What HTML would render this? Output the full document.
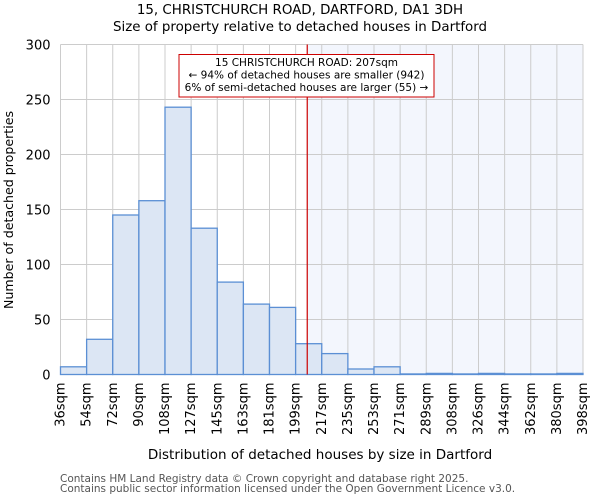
<!DOCTYPE html>
<html><head><meta charset="utf-8"><style>
body{margin:0;background:#fff;font-family:"DejaVu Sans","Liberation Sans",sans-serif}
</style></head><body>
<svg id="chart" width="600" height="500" xmlns="http://www.w3.org/2000/svg" font-family="DejaVu Sans, Liberation Sans, sans-serif">
<text x="300" y="14" text-anchor="middle" font-size="13.4">15, CHRISTCHURCH ROAD, DARTFORD, DA1 3DH</text>
<text x="300" y="31" text-anchor="middle" font-size="13.4">Size of property relative to detached houses in Dartford</text>
<g id="plot"></g>
<text x="320" y="459" text-anchor="middle" font-size="13.5">Distribution of detached houses by size in Dartford</text>
<text transform="translate(13,210) rotate(-90)" text-anchor="middle" font-size="12.6">Number of detached properties</text>
<text x="60" y="482" font-size="10.5" fill="#555">Contains HM Land Registry data © Crown copyright and database right 2025.</text>
<text x="60" y="492" font-size="10.5" fill="#555">Contains public sector information licensed under the Open Government Licence v3.0.</text>
</svg>
<script>
const binLabels=["36sqm","54sqm","72sqm","90sqm","108sqm","127sqm","145sqm","163sqm","181sqm","199sqm","217sqm","235sqm","253sqm","271sqm","289sqm","308sqm","326sqm","344sqm","362sqm","380sqm","398sqm"];
const counts=[7,32,145,158,243,133,84,64,61,28,19,5,7,0.5,1,0.5,1,0.5,0.5,1];
const yTicks=[0,50,100,150,200,250,300];
const propertySize=207;
const ns="http://www.w3.org/2000/svg";
const L=60.5,R=583,T=44.5,B=374.5,ymax=300;
const n=counts.length,bw=(R-L)/n;
const xs=i=>L+i*bw;
const ys=v=>B-(B-T)*v/ymax;
const edges=binLabels.map(s=>parseFloat(s));
function xVal(v){for(let i=0;i<edges.length-1;i++){if(v>=edges[i]&&v<=edges[i+1])return xs(i)+bw*(v-edges[i])/(edges[i+1]-edges[i]);}return R;}
const g=document.getElementById('plot');
function mk(t,a){const e=document.createElementNS(ns,t);for(const k in a)e.setAttribute(k,a[k]);g.appendChild(e);return e;}
const rx=xVal(propertySize);
let e=mk('rect',{x:rx,y:T,width:R-rx,height:B-T,fill:'#f3f6fd'});


for(let i=0;i<=n;i++){e=mk('line',{x1:xs(i),x2:xs(i),y1:T,y2:B,stroke:'#cccccc','stroke-width':1});

}
yTicks.forEach(v=>{e=mk('line',{x1:L,x2:R,y1:ys(v),y2:ys(v),stroke:'#cccccc','stroke-width':1});


e=mk('text',{x:L-10,y:ys(v)+5,'text-anchor':'end','font-size':13});e.textContent=v;

});
counts.forEach((c,i)=>{e=mk('rect',{x:xs(i),y:ys(c),width:bw,height:B-ys(c),fill:'#dce6f4',stroke:'#5b8fd4','stroke-width':1.3});

});
binLabels.forEach((s,i)=>{const x=xs(i)+4;e=mk('text',{transform:`translate(${x},${B+8}) rotate(-90)`,'text-anchor':'end','font-size':13});e.textContent=s;

});
e=mk('line',{x1:rx,x2:rx,y1:T,y2:B,stroke:'#cc0000','stroke-width':1.2});


e=mk('rect',{x:179,y:54.5,width:255,height:42.5,fill:'#fff',stroke:'#cc0000','stroke-width':1});


["15 CHRISTCHURCH ROAD: 207sqm","← 94% of detached houses are smaller (942)","6% of semi-detached houses are larger (55) →"].forEach((t,i)=>{
e=mk('text',{x:306.5,y:66+i*12.5,'text-anchor':'middle','font-size':10.5});e.textContent=t;

});
</script>
</body></html>
